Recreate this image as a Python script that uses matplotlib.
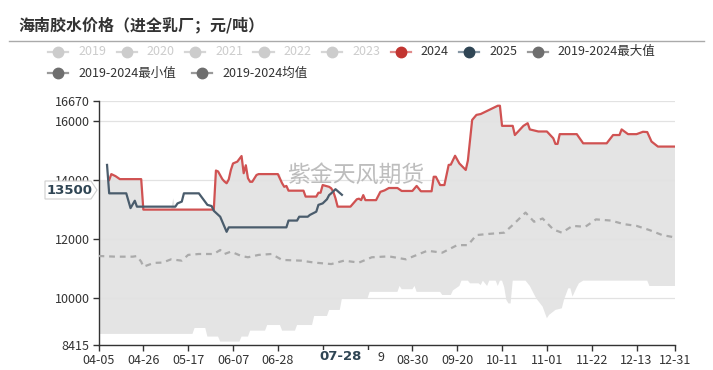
import matplotlib
matplotlib.use('Agg')
import matplotlib.pyplot as plt
from matplotlib.lines import Line2D
from matplotlib.patches import Polygon, Rectangle
import numpy as np
import pandas as pd

plt.rcParams['font.family'] = ['Noto Sans CJK SC', 'DejaVu Sans']

# 2024
d2024 = ['04-10', '04-11', '04-13', '04-15', '04-25', '04-26', '05-29', '05-30', '05-31', '06-02',
         '06-03', '06-04', '06-05', '06-06', '06-07', '06-09', '06-11', '06-12', '06-13', '06-14',
         '06-15', '06-16', '06-18', '06-19', '06-28', '06-30', '07-01', '07-02', '07-03', '07-10',
         '07-11', '07-16', '07-17', '07-18', '07-19', '07-22', '07-23', '07-24', '07-25', '07-26',
         '08-01', '08-04', '08-05', '08-06', '08-07', '08-08', '08-13', '08-15', '08-17', '08-19',
         '08-23', '08-25', '08-30', '09-01', '09-03', '09-08', '09-09', '09-10', '09-12', '09-14',
         '09-16', '09-17', '09-19', '09-21', '09-24', '09-25', '09-27', '09-29', '10-01', '10-09',
         '10-10', '10-11', '10-16', '10-17', '10-21', '10-23', '10-24', '10-28', '11-01', '11-04',
         '11-05', '11-06', '11-07', '11-15', '11-18', '11-29', '12-02', '12-05', '12-06', '12-09',
         '12-13', '12-16', '12-18', '12-20', '12-23', '12-31']
v2024 = [14000, 14200, 14130, 14030, 14030, 13000, 13000, 14320, 14290, 14030,
         13950, 13890, 14020, 14340, 14560, 14620, 14810, 14230, 14500, 14060,
         13940, 13940, 14170, 14200, 14200, 13890, 13770, 13800, 13640, 13640,
         13440, 13440, 13570, 13570, 13830, 13770, 13720, 13600, 13380, 13100,
         13100, 13350, 13370, 13320, 13490, 13320, 13320, 13600, 13650, 13730,
         13730, 13630, 13630, 13800, 13620, 13620, 14110, 14110, 13830, 13830,
         14510, 14520, 14820, 14560, 14340, 14660, 16030, 16200, 16230, 16510,
         16510, 15830, 15830, 15520, 15830, 15920, 15710, 15640, 15640, 15410,
         15220, 15220, 15550, 15550, 15240, 15240, 15520, 15520, 15710, 15550,
         15550, 15630, 15620, 15300, 15130, 15130]

# 2025
d2025 = ['04-09', '04-10', '04-18', '04-20', '04-22', '04-23', '05-11', '05-12', '05-14', '05-15',
         '05-22', '05-26', '05-28', '05-29', '06-01', '06-02', '06-03', '06-04', '06-05', '07-02',
         '07-03', '07-07', '07-08', '07-12', '07-13', '07-16', '07-17', '07-19', '07-21', '07-22',
         '07-23', '07-25', '07-28']
v2025 = [14510, 13550, 13550, 13050, 13300, 13100, 13100, 13210, 13270, 13550,
         13550, 13160, 13120, 12960, 12760, 12590, 12420, 12250, 12400, 12400,
         12630, 12630, 12760, 12760, 12820, 12930, 13160, 13210, 13350, 13490,
         13550, 13690, 13500]

# 2019-2024 max
d_max = ['04-05', '04-10', '04-11', '04-13', '04-15', '04-25', '04-26', '05-09', '05-10', '05-11',
         '05-29', '05-30', '05-31', '06-02', '06-03', '06-04', '06-05', '06-06', '06-07', '06-09',
         '06-11', '06-12', '06-13', '06-14', '06-15', '06-16', '06-18', '06-19', '06-29', '06-30',
         '07-01', '07-02', '07-03', '07-10', '07-11', '07-16', '07-17', '07-18', '07-19', '07-22',
         '07-23', '07-24', '07-25', '07-26', '08-01', '08-04', '08-05', '08-06', '08-07', '08-08',
         '08-13', '08-15', '08-17', '08-19', '08-23', '08-25', '08-30', '09-01', '09-03', '09-08',
         '09-09', '09-10', '09-12', '09-14', '09-16', '09-17', '09-19', '09-21', '09-24', '09-25',
         '09-27', '09-29', '10-01', '10-09', '10-10', '10-11', '10-16', '10-17', '10-21', '10-23',
         '10-24', '10-28', '11-01', '11-04', '11-05', '11-06', '11-07', '11-15', '11-18', '11-29',
         '12-02', '12-05', '12-06', '12-09', '12-13', '12-16', '12-18', '12-20', '12-23', '12-31']
v_max = [14000, 14000, 14200, 14130, 14030, 14030, 13000, 13000, 13380, 13000,
         13000, 14320, 14290, 14030, 13950, 13890, 14020, 14340, 14560, 14620,
         14810, 14230, 14500, 14060, 13940, 13940, 14170, 14200, 14200, 13890,
         13770, 13800, 13640, 13640, 13440, 13440, 13570, 13570, 13830, 13770,
         13720, 13600, 13380, 13100, 13100, 13350, 13370, 13320, 13490, 13320,
         13320, 13600, 13650, 13730, 13730, 13630, 13630, 13800, 13620, 13620,
         14110, 14110, 13830, 13830, 14510, 14520, 14820, 14560, 14340, 14660,
         16030, 16200, 16230, 16510, 16510, 15830, 15830, 15520, 15830, 15920,
         15710, 15640, 15640, 15410, 15220, 15220, 15550, 15550, 15240, 15240,
         15520, 15520, 15710, 15550, 15550, 15630, 15620, 15300, 15130, 15130]

# 2019-2024 min
d_min = ['04-05', '05-19', '05-20', '05-25', '05-26', '05-31', '06-01', '06-10', '06-11', '06-14',
         '06-15', '06-22', '06-23', '06-29', '06-30', '07-06', '07-07', '07-14', '07-15', '07-21',
         '07-22', '07-27', '07-28', '08-09', '08-10', '08-23', '08-24', '08-25', '08-30', '08-31',
         '09-01', '09-12', '09-13', '09-17', '09-18', '09-21', '09-22', '09-25', '09-26', '09-30',
         '10-01', '10-02', '10-04', '10-05', '10-08', '10-09', '10-10', '10-11', '10-12', '10-13',
         '10-14', '10-15', '10-16', '10-22', '10-24', '10-27', '10-30', '11-01', '11-02', '11-05',
         '11-08', '11-09', '11-11', '11-12', '11-13', '11-15', '11-16', '11-18', '12-18', '12-19',
         '12-31']
v_min = [8800, 8800, 9000, 9000, 8710, 8710, 8540, 8540, 8710, 8710,
         8910, 8910, 9100, 9100, 8910, 8910, 9100, 9100, 9405, 9405,
         9610, 9610, 10000, 10000, 10220, 10220, 10420, 10310, 10310, 10420,
         10220, 10220, 10115, 10115, 10270, 10420, 10600, 10600, 10510, 10510,
         10450, 10600, 10420, 10600, 10600, 10420, 10600, 10600, 10380, 9950,
         9830, 9830, 10600, 10600, 10420, 10000, 9720, 9330, 9440, 9610,
         9665, 9950, 10340, 10340, 10060, 10375, 10510, 10600, 10600, 10420,
         10420]

# 2019-2024 mean
d_mean = ['04-05', '04-13', '04-21', '04-23', '04-25', '04-26', '05-01', '05-05', '05-09', '05-14',
          '05-17', '05-22', '05-29', '06-01', '06-03', '06-06', '06-11', '06-14', '06-19', '06-25',
          '06-30', '07-09', '07-15', '07-23', '07-29', '08-05', '08-11', '08-19', '08-27', '09-06',
          '09-13', '09-20', '09-25', '09-29', '10-05', '10-12', '10-16', '10-22', '10-26', '10-30',
          '11-04', '11-08', '11-13', '11-19', '11-24', '12-01', '12-07', '12-13', '12-19', '12-25',
          '12-31']
v_mean = [11433, 11410, 11410, 11430, 11240, 11070, 11200, 11210, 11320, 11275,
          11470, 11500, 11500, 11635, 11500, 11580, 11430, 11390, 11470, 11500,
          11300, 11275, 11210, 11160, 11275, 11210, 11390, 11420, 11320, 11610,
          11545, 11800, 11800, 12140, 12180, 12220, 12480, 12900, 12590, 12700,
          12330, 12220, 12450, 12420, 12670, 12630, 12510, 12450, 12310, 12140,
          12060]

tick_dates = ['04-05', '04-26', '05-17', '06-07', '06-28', '07-19', '08-09', '08-30',
              '09-20', '10-11', '11-01', '11-22', '12-13', '12-31']
# labels hidden under the axis pointer box
tick_labels = ['04-05', '04-26', '05-17', '06-07', '06-28', '', '', '08-30',
               '09-20', '10-11', '11-01', '11-22', '12-13', '12-31']
y_ticks = [8415, 10000, 12000, 14000, 16000, 16670]

legend_names = ['2019', '2020', '2021', '2022', '2023', '2024', '2025',
                '2019-2024最大值', '2019-2024最小值', '2019-2024均值']

start = pd.Timestamp('2024-04-05')


def to_days(dates):
    return np.array([(pd.Timestamp('2024-' + d) - start).days for d in dates])


RED = '#d05252'
SLATE = '#4a5c6c'
W, H = 713, 370

fig = plt.figure(figsize=(W / 100, H / 100), dpi=100)
ax = fig.add_axes([98.5 / W, 24.7 / H, 576.5 / W, 244.3 / H])

x_max, x_min = to_days(d_max), to_days(d_min)
ax.fill(np.concatenate([x_max, x_min[::-1]]), np.concatenate([v_max, v_min[::-1]]),
        color='#e4e4e4', lw=0, zorder=1)

ax.text(120.5, 14170, '紫金天风期货', fontsize=16.5, color='#bdbdbd', ha='center', va='center', zorder=2)

ax.plot(to_days(d_mean), v_mean, color='#aaaaaa', lw=1.6, dashes=(2.6, 2.2), zorder=3)
ax.plot(to_days(d2024), v2024, color=RED, lw=1.6, zorder=4)
ax.plot(to_days(d2025), v2025, color=SLATE, lw=1.6, zorder=5)

ax.set_xlim(0, 270)
ax.set_ylim(8415, 16670)
ax.set_yticks(y_ticks)
ax.set_yticklabels([str(v) for v in y_ticks])
ax.set_xticks(to_days(tick_dates))
ax.set_xticklabels(tick_labels)
ax.grid(axis='y', color='#e2e2e2', lw=0.9, zorder=0)
for s in ['top', 'right']:
    ax.spines[s].set_visible(False)
for s in ['left', 'bottom']:
    ax.spines[s].set_color('#333333')
    ax.spines[s].set_linewidth(1.0)
ax.tick_params(axis='both', length=4.5, width=1, color='#333333', labelcolor='#333333',
               labelsize=9, pad=2)

# visible tail of the 08-09 label beside the pointer box
fig.text(384 / W, 1 - 357.5 / H, '9', fontsize=9, color='#333333', ha='right', va='center')

# axis pointer labels
fig.patches.append(Rectangle((305 / W, 0), 71 / W, (H - 350) / H, transform=fig.transFigure,
                             facecolor='white', edgecolor='none', zorder=5))
fig.text(341 / W, 1 - 357 / H, '07-28', fontsize=9.5, fontweight='bold', color='#2f4554',
         family='DejaVu Sans', ha='center', va='center', zorder=6)
pts = [(45, 181), (91, 181), (97, 190), (91, 199), (45, 199)]
fig.patches.append(Polygon([(x / W, 1 - y / H) for x, y in pts], closed=True,
                           transform=fig.transFigure, facecolor='white', edgecolor='#cfcfcf',
                           lw=0.8, zorder=5))
fig.text(70 / W, 1 - 190 / H, '13500', fontsize=9.5, fontweight='bold', color='#2f4554',
         family='DejaVu Sans', ha='center', va='center', zorder=6)

# title
fig.text(18 / W, 1 - 25 / H, '海南胶水价格（进全乳厂；元/吨）', fontsize=11.5, fontweight='bold',
         color='#333333', ha='left', va='center')
fig.lines.append(Line2D([9 / W, 704 / W], [1 - 40.5 / H, 1 - 40.5 / H], transform=fig.transFigure,
                        color='#aaaaaa', lw=1))

# legend
icon_x = [48, 116.5, 185, 253.5, 322, 390.5, 459, 527.5, 48, 192]
row_y = [51.5] * 8 + [73.3] * 2
line_cols = ['#d6d6d6'] * 5 + ['#e08a8a', '#8797a4', '#9a9a9a', '#9a9a9a', '#9a9a9a']
dot_cols = ['#cccccc'] * 5 + ['#c23531', '#2f4554', '#6e6e6e', '#6e6e6e', '#6e6e6e']
text_cols = ['#cccccc'] * 5 + ['#333333'] * 5
for name, x0, y0, lc, dc, tc in zip(legend_names, icon_x, row_y, line_cols, dot_cols, text_cols):
    yf = 1 - y0 / H
    fig.lines.append(Line2D([x0 / W, (x0 + 20) / W], [yf, yf], transform=fig.transFigure,
                            color=lc, lw=1.6))
    fig.lines.append(Line2D([(x0 + 10) / W], [yf], transform=fig.transFigure, marker='o',
                            markersize=7.5, color=dc, lw=0))
    fig.text((x0 + 30) / W, yf, name, fontsize=9, color=tc, ha='left', va='center')

fig.savefig('out.png', dpi=100)
